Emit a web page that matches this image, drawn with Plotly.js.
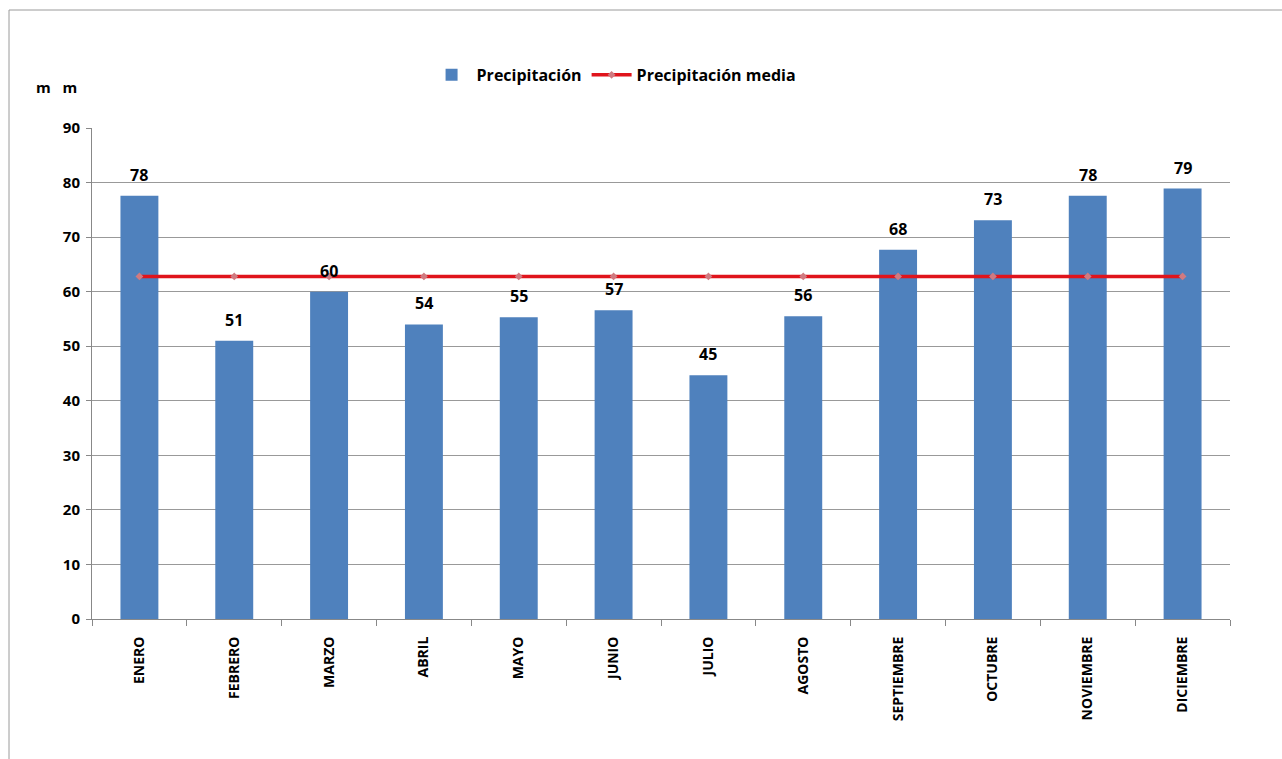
<!DOCTYPE html>
<html>
<head>
<meta charset="utf-8">
<script src="https://cdn.plot.ly/plotly-3.0.1.min.js"></script>
<style>
html,body{margin:0;padding:0;background:#fff;}
#chart{width:1282px;height:759px;}
</style>
</head>
<body>
<div id="chart"></div>
<script>
const months = ["ENERO","FEBRERO","MARZO","ABRIL","MAYO","JUNIO","JULIO","AGOSTO","SEPTIEMBRE","OCTUBRE","NOVIEMBRE","DICIEMBRE"];
const precip = [77.6, 51.0, 60.0, 54.0, 55.3, 56.6, 44.7, 55.5, 67.7, 73.1, 77.6, 78.9];
const precipMedia = [62.8, 62.8, 62.8, 62.8, 62.8, 62.8, 62.8, 62.8, 62.8, 62.8, 62.8, 62.8];
const yTicks = [0,10,20,30,40,50,60,70,80,90];

const FONT = "'Open Sans', Lato, sans-serif";

const barTrace = {
  type: 'bar',
  name: 'Precipitación',
  x: months,
  y: precip,
  marker: {color: '#4f81bd'},
  hoverinfo: 'x+y'
};
const lineTrace = {
  type: 'scatter',
  mode: 'lines+markers',
  name: 'Precipitación media',
  x: months,
  y: precipMedia,
  line: {color: '#e0141c', width: 3.5},
  marker: {symbol: 'diamond', size: 6, color: '#d07a80'}
};

const annotations = months.map((m, i) => ({
  x: m, y: precip[i], xref: 'x', yref: 'y',
  text: String(Math.round(precip[i])),
  showarrow: false, yanchor: 'bottom', yshift: 8,
  font: {family: FONT, size: 16, color: '#000', weight: 'bold'}
}));
annotations.push({
  xref: 'paper', yref: 'paper', x: -0.031, y: 1.0835, xanchor: 'center', yanchor: 'middle',
  text: 'm   m', showarrow: false,
  font: {family: FONT, size: 15, color: '#000', weight: 'bold'}
});

const layout = {
  width: 1282, height: 759,
  margin: {l: 92, r: 52, t: 128, b: 140, pad: 0},
  paper_bgcolor: '#fff', plot_bgcolor: '#fff',
  bargap: 0.6,
  showlegend: true,
  legend: {
    orientation: 'h', x: 0.294, xanchor: 'left', y: 1.108, yanchor: 'middle',
    font: {family: FONT, size: 16, color: '#000', weight: 'bold'},
    itemwidth: 40, traceorder: 'normal'
  },
  xaxis: {
    type: 'category',
    range: [-0.5, 11.5],
    tickangle: -90,
    tickfont: {family: FONT, size: 14, color: '#000', weight: 'bold'},
    ticklabelstandoff: 11,
    showline: true, linecolor: '#888', linewidth: 1,
    ticks: 'outside', ticklen: 6, tickcolor: '#888',
    tickson: 'boundaries',
    showgrid: false, zeroline: false,
    fixedrange: true
  },
  yaxis: {
    range: [0, 90],
    tickvals: yTicks,
    tickfont: {family: FONT, size: 15, color: '#000', weight: 'bold'},
    ticklabelstandoff: 3,
    showline: true, linecolor: '#888', linewidth: 1,
    ticks: 'outside', ticklen: 5, tickcolor: '#888',
    showgrid: true, gridcolor: '#999', gridwidth: 1,
    zeroline: false,
    fixedrange: true
  },
  annotations: annotations,
  shapes: [{
    type: 'rect', xref: 'paper', yref: 'paper',
    x0: (9 - 92) / 1138, x1: (1290 - 92) / 1138,
    y0: (619 - 770) / 491, y1: (619 - 10) / 491,
    line: {color: '#9a9a9a', width: 1}, fillcolor: 'rgba(0,0,0,0)', layer: 'below'
  }]
};

Plotly.newPlot('chart', [barTrace, lineTrace], layout, {displayModeBar: false, staticPlot: true});
</script>
</body>
</html>
